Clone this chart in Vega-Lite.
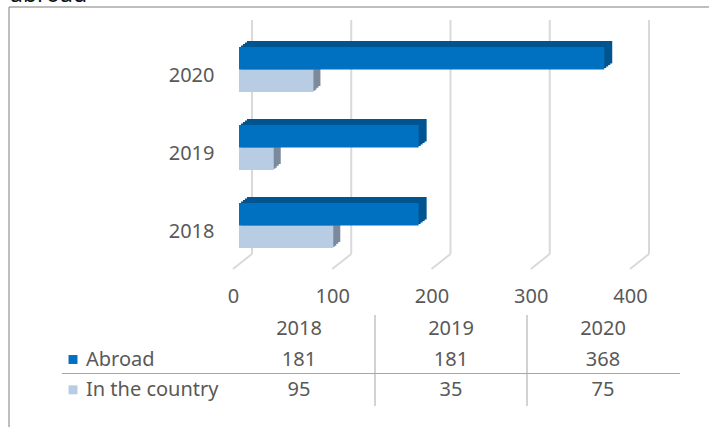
{
  "$schema": "https://vega.github.io/schema/vega-lite/v6.json",
  "width": 709,
  "height": 427,
  "padding": 0,
  "autosize": {"type": "none"},
  "background": "white",
  "config": {"view": {"stroke": null}, "font": "Noto Sans"},
  "datasets": {
    "bars": [
      {"year": "2018", "series": "Abroad", "value": 181},
      {"year": "2019", "series": "Abroad", "value": 181},
      {"year": "2020", "series": "Abroad", "value": 368},
      {"year": "2018", "series": "In the country", "value": 95},
      {"year": "2019", "series": "In the country", "value": 35},
      {"year": "2020", "series": "In the country", "value": 75}
    ],
    "ticks": [{"tick": 0}, {"tick": 100}, {"tick": 200}, {"tick": 300}, {"tick": 400}],
    "rows": [{"series": "Abroad"}, {"series": "In the country"}],
    "years": [{"year": "2018"}, {"year": "2019"}, {"year": "2020"}],
    "seps": [{"year": "2019"}, {"year": "2020"}],
    "frame": [{"label": "abroad"}]
  },
  "resolve": {"scale": {"x": "independent", "y": "independent"}, "axis": {"x": "independent", "y": "independent"}},
  "layer": [
    {
      "data": {"name": "ticks"},
      "encoding": {
        "x": {"field": "tick", "type": "quantitative", "axis": null, "scale": {"domain": [0, 400], "range": [239, 636]}}
      },
      "layer": [
        {
          "mark": {"type": "rule", "color": "#d9d9d9", "strokeWidth": 2, "xOffset": 13, "yOffset": -15},
          "encoding": {
            "y": {"datum": 0, "type": "quantitative", "axis": null, "scale": {"domain": [0, 1], "range": [269, 20]}},
            "y2": {"datum": 1}
          }
        },
        {
          "mark": {"type": "rule", "color": "#d9d9d9", "strokeWidth": 2, "xOffset": -6, "x2Offset": 13, "y2Offset": -15},
          "encoding": {
            "x2": {"field": "tick"},
            "y": {"datum": 0, "type": "quantitative", "axis": null, "scale": {"domain": [0, 1], "range": [269, 20]}},
            "y2": {"datum": 0}
          }
        }
      ]
    },
    {
      "data": {"name": "bars"},
      "encoding": {
        "x": {"field": "value", "type": "quantitative", "scale": {"domain": [0, 400], "range": [239, 636]},
          "axis": {"values": [0, 100, 200, 300, 400], "title": null, "grid": false, "domain": false, "ticks": false, "labelFontSize": 20, "labelColor": "#595959", "labelPadding": 0, "labelFlush": false, "offset": -141, "labelOffset": -6}},
        "y": {"field": "year", "type": "nominal", "sort": ["2020", "2019", "2018"],
          "scale": {"range": [30.5, 264.5], "paddingInner": 0.423, "paddingOuter": 0.2115},
          "axis": {"title": null, "domain": false, "ticks": false, "grid": false, "labelFontSize": 20, "labelColor": "#595959", "labelPadding": 0, "offset": -214, "labelOffset": 6}}
      },
      "layer": [
        {"transform": [{"filter": "datum.series === 'In the country'"}], "mark": {"type": "bar", "color": "#7b8a9c", "height": 22.5, "xOffset": 7}, "encoding": {"yOffset": {"value": 27.75}}},
        {"transform": [{"filter": "datum.series === 'In the country'"}], "mark": {"type": "bar", "color": "#7b8a9c", "height": 22.5, "xOffset": 5}, "encoding": {"yOffset": {"value": 29.5}}},
        {"transform": [{"filter": "datum.series === 'In the country'"}], "mark": {"type": "bar", "color": "#7b8a9c", "height": 22.5, "xOffset": 3}, "encoding": {"yOffset": {"value": 31.5}}},
        {"transform": [{"filter": "datum.series === 'In the country'"}], "mark": {"type": "bar", "color": "#7b8a9c", "height": 22.5, "xOffset": 1.5}, "encoding": {"yOffset": {"value": 32.5}}},
        {"transform": [{"filter": "datum.series === 'In the country'"}], "mark": {"type": "bar", "color": "#b8cce4", "height": 22.5}, "encoding": {"yOffset": {"value": 33.75}}},
        {"transform": [{"filter": "datum.series === 'Abroad'"}], "mark": {"type": "bar", "color": "#005590", "height": 22.5, "xOffset": 8}, "encoding": {"yOffset": {"value": 5.25}}},
        {"transform": [{"filter": "datum.series === 'Abroad'"}], "mark": {"type": "bar", "color": "#005590", "height": 22.5, "xOffset": 6}, "encoding": {"yOffset": {"value": 6.75}}},
        {"transform": [{"filter": "datum.series === 'Abroad'"}], "mark": {"type": "bar", "color": "#005590", "height": 22.5, "xOffset": 4}, "encoding": {"yOffset": {"value": 8.25}}},
        {"transform": [{"filter": "datum.series === 'Abroad'"}], "mark": {"type": "bar", "color": "#005590", "height": 22.5, "xOffset": 2}, "encoding": {"yOffset": {"value": 9.75}}},
        {"transform": [{"filter": "datum.series === 'Abroad'"}], "mark": {"type": "bar", "color": "#0070c0", "height": 22.5}, "encoding": {"yOffset": {"value": 11.25}}}
      ]
    },
    {
      "encoding": {
        "x": {"field": "year", "type": "nominal", "axis": null, "scale": {"type": "band", "domain": ["2018", "2019", "2020"], "range": [223, 679], "padding": 0}},
        "y": {"field": "row", "type": "nominal", "axis": null, "scale": {"type": "band", "domain": ["year", "Abroad", "In the country"], "range": [314, 405], "padding": 0}}
      },
      "layer": [
        {
          "data": {"name": "years"},
          "transform": [{"calculate": "'year'", "as": "row"}],
          "mark": {"type": "text", "fontSize": 20, "color": "#595959"},
          "encoding": {"text": {"field": "year"}}
        },
        {
          "data": {"name": "bars"},
          "transform": [{"calculate": "datum.series", "as": "row"}],
          "mark": {"type": "text", "fontSize": 20, "color": "#595959"},
          "encoding": {"text": {"field": "value", "type": "quantitative"}}
        },
        {
          "data": {"name": "rows"},
          "transform": [{"calculate": "datum.series", "as": "row"}],
          "mark": {"type": "text", "fontSize": 20, "color": "#595959", "align": "left", "xOffset": -213},
          "encoding": {"x": {"datum": "2018"}, "text": {"field": "series"}}
        },
        {
          "data": {"name": "rows"},
          "transform": [{"calculate": "datum.series", "as": "row"}],
          "mark": {"type": "square", "size": 80, "opacity": 1, "xOffset": -226},
          "encoding": {"x": {"datum": "2018"},
            "color": {"field": "series", "type": "nominal", "legend": null, "scale": {"domain": ["Abroad", "In the country"], "range": ["#0070c0", "#b8cce4"]}}}
        }
      ]
    },
    {
      "data": {"name": "seps"},
      "encoding": {
        "x": {"field": "year", "type": "nominal", "axis": null, "scale": {"domain": ["2018", "2019", "2020"], "range": [223, 679], "padding": 0}, "bandPosition": 0},
        "y": {"datum": 0, "type": "quantitative", "axis": null, "scale": {"domain": [0, 1], "range": [406, 315]}},
        "y2": {"datum": 1}
      },
      "layer": [
        {"mark": {"type": "rule", "color": "#a6a6a6", "strokeWidth": 1}}
      ]
    },
    {
      "data": {"name": "frame"},
      "encoding": {
        "x": {"datum": 0, "type": "quantitative", "axis": null, "scale": {"domain": [0, 1], "range": [62, 680]}},
        "y": {"datum": 0, "type": "quantitative", "axis": null, "scale": {"domain": [0, 1], "range": [373.5, 20]}}
      },
      "layer": [
        {"mark": {"type": "rule", "color": "#a6a6a6", "strokeWidth": 1}, "encoding": {"x2": {"datum": 1}}}
      ]
    },
    {
      "data": {"name": "frame"},
      "encoding": {
        "x": {"datum": 0, "type": "quantitative", "axis": null, "scale": {"domain": [0, 1], "range": [9, 712]}},
        "y": {"datum": 1, "type": "quantitative", "axis": null, "scale": {"domain": [0, 1], "range": [432, 7]}}
      },
      "layer": [
        {"mark": {"type": "rect", "fill": null, "stroke": "#7f7f7f", "strokeWidth": 1}, "encoding": {"x2": {"datum": 1}, "y2": {"datum": 0}}},
        {"mark": {"type": "text", "align": "left", "baseline": "alphabetic", "font": "Noto Sans", "fontSize": 23, "color": "#111111", "xOffset": 1, "yOffset": -5}, "encoding": {"text": {"field": "label"}}}
      ]
    }
  ]
}
